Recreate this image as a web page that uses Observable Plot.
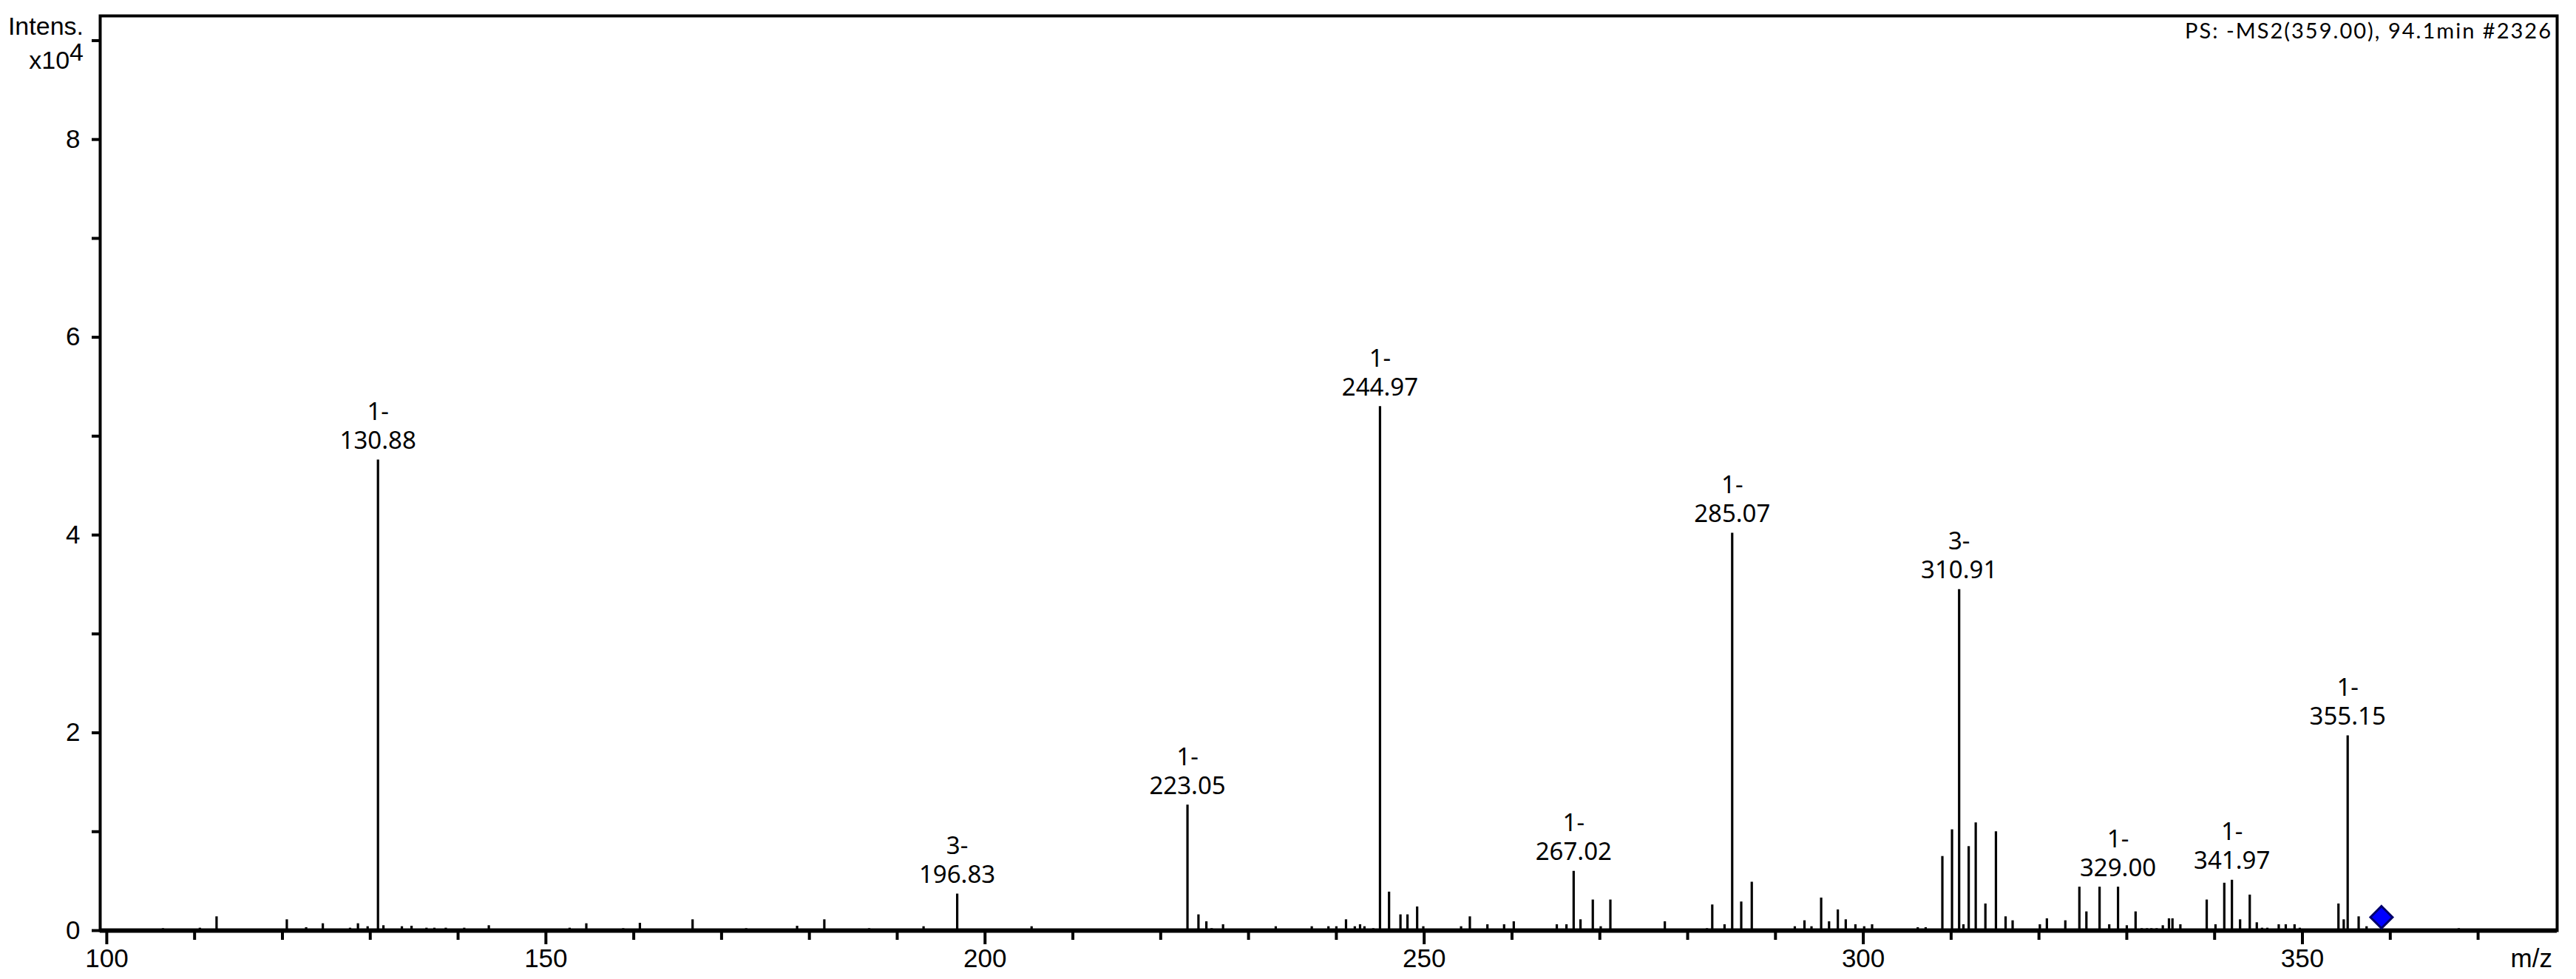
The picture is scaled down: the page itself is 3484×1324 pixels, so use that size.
<!DOCTYPE html>
<html><head><meta charset="utf-8">
<script src="https://cdn.jsdelivr.net/npm/d3@7"></script>
<script src="https://cdn.jsdelivr.net/npm/@observablehq/plot@0.6"></script>
<style>
html,body{margin:0;padding:0;background:#fff;}
#chart{width:3484px;height:1324px;position:relative;}
</style></head><body><div id="chart"></div>
<script>
// m/z of every peak (centroid sticks)
const mz = [
 106.4,110.6,112.5,120.5,122.7,124.6,127.7,128.6,129.7,130.88,131.5,133.6,134.7,136.4,137.3,138.6,140.7,143.5,
 152.7,154.6,158.8,160.7,166.7,172.8,178.6,181.7,186.8,
 192.0,193.0,195.0,196.83,199.3,200.0,201.1,203.0,205.3,210.9,212.0,213.2,214.2,215.1,219.2,221.3,
 223.05,224.3,225.2,225.8,227.1,229.0,231.2,233.1,235.1,235.8,237.2,239.1,240.0,241.1,242.1,242.7,243.2,244.2,
 244.97,246.0,247.3,248.1,249.2,249.9,252.2,253.0,254.2,255.2,257.2,259.1,260.2,261.2,264.1,265.1,266.2,
 267.02,267.8,269.2,270.1,271.2,272.8,277.4,278.1,279.2,280.1,281.1,282.2,282.8,284.2,
 285.07,286.1,287.3,292.2,293.3,294.1,295.2,296.1,297.1,298.0,299.1,300.1,301.0,306.2,307.1,308.5,309.0,310.1,
 310.91,311.4,312.0,312.8,313.9,315.1,316.2,317.0,317.6,318.2,318.8,320.1,320.9,323.0,323.5,324.0,324.6,325.4,326.9,328.0,
 329.00,330.0,331.0,331.7,332.3,332.8,333.4,334.1,334.8,335.2,336.1,336.7,337.4,338.3,339.1,340.1,341.1,
 341.97,342.9,344.0,344.8,345.4,346.0,347.3,348.1,349.1,349.7,350.9,351.5,354.1,354.7,
 355.15,356.4,357.3,367.8,368.6,372.0,375.2
];
// intensity of every peak, x10^4
const intensity = [
 0.02,0.025,0.14,0.11,0.03,0.07,0.025,0.07,0.04,4.76,0.05,0.04,0.045,0.025,0.025,0.025,0.025,0.05,
 0.025,0.07,0.02,0.075,0.11,0.02,0.045,0.11,0.02,
 0.015,0.04,0.015,0.37,0.015,0.015,0.015,0.015,0.04,0.015,0.015,0.015,0.015,0.015,0.015,0.015,
 1.27,0.16,0.09,0.02,0.06,0.015,0.015,0.04,0.015,0.015,0.04,0.04,0.04,0.11,0.04,0.06,0.04,0.02,
 5.30,0.39,0.16,0.16,0.24,0.04,0.015,0.015,0.04,0.14,0.06,0.06,0.09,0.015,0.015,0.06,0.06,
 0.60,0.11,0.31,0.04,0.31,0.015,0.09,0.015,0.015,0.015,0.015,0.02,0.26,0.06,
 4.02,0.29,0.49,0.04,0.10,0.04,0.33,0.09,0.21,0.11,0.06,0.04,0.06,0.03,0.03,0.015,0.75,1.02,
 3.45,0.06,0.85,1.09,0.27,1.00,0.14,0.10,0.015,0.015,0.015,0.06,0.12,0.10,0.015,0.015,0.44,0.19,0.44,0.06,
 0.44,0.05,0.19,0.02,0.02,0.02,0.02,0.05,0.12,0.12,0.06,0.015,0.015,0.015,0.31,0.06,0.48,
 0.51,0.11,0.36,0.08,0.025,0.025,0.06,0.06,0.06,0.025,0.015,0.015,0.27,0.11,
 1.97,0.14,0.04,0.02,0.015,0.015,0.015
];
// annotated peaks
const labelMz = [130.88, 196.83, 223.05, 244.97, 267.02, 285.07, 310.91, 329.00, 341.97, 355.15];
const labelCharge = ["1-", "3-", "1-", "1-", "1-", "1-", "3-", "1-", "1-", "1-"];
// precursor marker
const precursorMz = [359.0];
const precursorLevel = [0.135];
// axis ticks
const xMajorTicks = [100, 150, 200, 250, 300, 350];
const xMinorTicks = [110,120,130,140,160,170,180,190,210,220,230,240,260,270,280,290,310,320,330,340,360,370];
const yTicks = [0, 1, 2, 3, 4, 5, 6, 7, 8, 9];
const yTickLabels = ["0", "", "2", "", "4", "", "6", "", "8", ""];
const titleText = "PS: -MS2(359.00), 94.1min #2326";
const yLabel = "Intens.";
const xLabel = "m/z";

const peaks = mz.map((m, i) => ({mz: m, i: intensity[i]}));
const labels = labelMz.map((m, k) => ({mz: m, i: intensity[mz.indexOf(m)], text: labelCharge[k] + "\n" + m.toFixed(2)}));
const precursor = precursorMz.map((m, k) => ({mz: m, i: precursorLevel[k]}));

const chart = Plot.plot({
  width: 3484, height: 1324,
  marginLeft: 135, marginRight: 26, marginTop: 21, marginBottom: 66,
  x: {domain: [99.25, 379]},
  y: {domain: [0, 9.25]},
  style: {background: "white", color: "black", fontFamily: "Liberation Sans", fontSize: "35px", overflow: "visible"},
  marks: [
    Plot.ruleX(peaks, {x: "mz", y1: 0, y2: "i", stroke: "black", strokeWidth: 3.2}),
    Plot.text(labels, {x: "mz", y: "i", text: "text", dy: -15, lineAnchor: "bottom", lineHeight: 1.18,
      fontFamily: "Noto Sans", fontSize: 33, fill: "black"}),
    Plot.axisX({ticks: xMinorTicks, tickSize: 13, tickFormat: () => "", strokeWidth: 4, label: null}),
    Plot.axisX({ticks: xMajorTicks, tickSize: 19, tickPadding: 6, strokeWidth: 4, label: null,
      fontFamily: "Liberation Sans", fontSize: 35, tickFormat: d => String(d)}),
    Plot.axisY({ticks: yTicks, tickSize: 11, tickPadding: 16, strokeWidth: 4, label: null,
      fontFamily: "Liberation Sans", fontSize: 35, tickFormat: d => yTickLabels[yTicks.indexOf(d)]}),
    Plot.frame({stroke: "black", strokeWidth: 4}),
    Plot.ruleY([0], {stroke: "black", strokeWidth: 6}),
    Plot.dot(precursor, {x: "mz", y: "i", symbol: "diamond2", r: 13.5, fill: "#0000ff", stroke: "#00006a", strokeWidth: 3})
  ]
});
document.getElementById("chart").appendChild(chart);

const svg = d3.select(chart);
svg.append("text").attr("x", 3450).attr("y", 52).attr("text-anchor", "end")
  .attr("font-family", "Lato").attr("font-size", 29).attr("fill", "black")
  .attr("textLength", 495).attr("lengthAdjust", "spacing").text(titleText);
svg.append("text").attr("x", 113).attr("y", 47).attr("text-anchor", "end")
  .attr("font-family", "Liberation Sans").attr("font-size", 34).attr("fill", "black").text(yLabel);
const sci = svg.append("text").attr("x", 113).attr("y", 93).attr("text-anchor", "end")
  .attr("font-family", "Liberation Sans").attr("font-size", 34).attr("fill", "black");
sci.append("tspan").text("x10");
sci.append("tspan").attr("dy", -11).text("4");
svg.append("text").attr("x", 3452).attr("y", 1308).attr("text-anchor", "end")
  .attr("font-family", "Liberation Sans").attr("font-size", 35).attr("fill", "black").text(xLabel);
</script></body></html>
